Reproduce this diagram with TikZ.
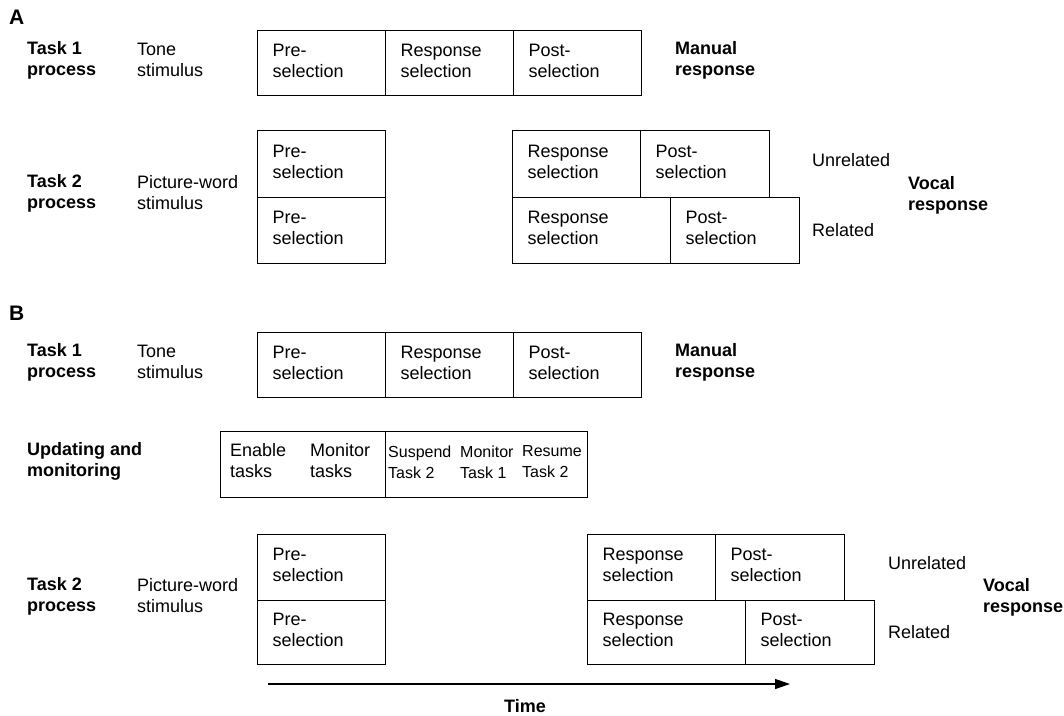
\documentclass[tikz,border=0pt]{standalone}
\usepackage{fontspec}
\setmainfont{Liberation Sans}
\usetikzlibrary{arrows.meta}
\tikzset{
  txt/.style={font=\fontsize{18}{21}\selectfont, align=left, anchor=west, inner sep=0pt},
  btxt/.style={font=\bfseries\fontsize{18}{21}\selectfont, align=left, anchor=west, inner sep=0pt},
  stxt/.style={font=\fontsize{16}{21}\selectfont, align=left, anchor=west, inner sep=0pt},
  panel/.style={font=\bfseries\fontsize{21}{24}\selectfont, anchor=west, inner sep=0pt},
  stage/.style={draw, line width=1.3pt, anchor=north west, align=left,
    inner xsep=15pt, inner ysep=0pt, font=\fontsize{18}{21}\selectfont,
    text depth=26pt, text width=#1},
  frame/.style={draw, line width=1.3pt, anchor=north west, inner sep=0pt},
}
\begin{document}
\begin{tikzpicture}[x=1pt,y=-1pt]
\useasboundingbox (0,0) rectangle (1064,715);

% ---------------- Panel A ----------------
\node[panel] (labA) at (9,17) {A};
\node[btxt] (a1task) at (27,60) {Task 1\\process};
\node[txt] (a1stim) at (137,60) {Tone\\stimulus};
\node[stage=98pt, minimum height=65pt] (a1pre) at (257,30) {Pre-\\selection};
\node[stage=98pt, minimum height=65pt] (a1resp) at (385,30) {Response\\selection};
\node[stage=98pt, minimum height=65pt] (a1post) at (513,30) {Post-\\selection};
\node[btxt] (a1out) at (675,60) {Manual\\response};

\node[btxt] (a2task) at (27,193) {Task 2\\process};
\node[txt] (a2stim) at (137,193) {Picture-word\\stimulus};
\node[stage=98pt, minimum height=67pt] (a2preU) at (257,130) {Pre-\\selection};
\node[stage=98pt, minimum height=66pt] (a2preR) at (257,197) {Pre-\\selection};
\node[stage=98pt, minimum height=67pt] (a2respU) at (512,130) {Response\\selection};
\node[stage=99pt, minimum height=67pt] (a2postU) at (640,130) {Post-\\selection};
\node[stage=128pt, minimum height=66pt] (a2respR) at (512,197) {Response\\selection};
\node[stage=99pt, minimum height=66pt] (a2postR) at (670,197) {Post-\\selection};
\node[txt] (a2unrel) at (812,160) {Unrelated};
\node[txt] (a2rel) at (812,230) {Related};
\node[btxt] (a2out) at (908,195) {Vocal\\response};

% ---------------- Panel B ----------------
\node[panel] (labB) at (9,313) {B};
\node[btxt] (b1task) at (27,362) {Task 1\\process};
\node[txt] (b1stim) at (137,362) {Tone\\stimulus};
\node[stage=98pt, minimum height=65pt] (b1pre) at (257,332) {Pre-\\selection};
\node[stage=98pt, minimum height=65pt] (b1resp) at (385,332) {Response\\selection};
\node[stage=98pt, minimum height=65pt] (b1post) at (513,332) {Post-\\selection};
\node[btxt] (b1out) at (675,362) {Manual\\response};

\node[btxt] (bmtask) at (27,461) {Updating and\\monitoring};
\node[frame, minimum width=165pt, minimum height=66pt] (bmleft) at (220,431) {};
\node[frame, minimum width=202pt, minimum height=66pt] (bmright) at (385,431) {};
\node[txt] (bmen) at (230,461) {Enable\\tasks};
\node[txt] (bmmon) at (310,461) {Monitor\\tasks};
\node[stxt] (bmsus) at (388,462) {Suspend\\Task 2};
\node[stxt] (bmmon1) at (460,462) {Monitor\\Task 1};
\node[stxt] (bmres) at (522,462) {Resume\\Task 2};

\node[btxt] (b2task) at (27,596) {Task 2\\process};
\node[txt] (b2stim) at (137,596) {Picture-word\\stimulus};
\node[stage=98pt, minimum height=66pt] (b2preU) at (257,534) {Pre-\\selection};
\node[stage=98pt, minimum height=64pt] (b2preR) at (257,600) {Pre-\\selection};
\node[stage=98pt, minimum height=66pt] (b2respU) at (587,534) {Response\\selection};
\node[stage=99pt, minimum height=66pt] (b2postU) at (715,534) {Post-\\selection};
\node[stage=128pt, minimum height=64pt] (b2respR) at (587,600) {Response\\selection};
\node[stage=99pt, minimum height=64pt] (b2postR) at (745,600) {Post-\\selection};
\node[txt] (b2unrel) at (888,563) {Unrelated};
\node[txt] (b2rel) at (888,632) {Related};
\node[btxt] (b2out) at (983,597) {Vocal\\response};

% ---------------- Time axis ----------------
\coordinate (t0) at (268,684);
\coordinate (t1) at (790,684);
\draw[line width=1.3pt, -{Triangle[length=15pt,width=10pt]}] (t0) -- (t1);
\node[btxt, anchor=center] (time) at (525,706) {Time};
\end{tikzpicture}
\end{document}
